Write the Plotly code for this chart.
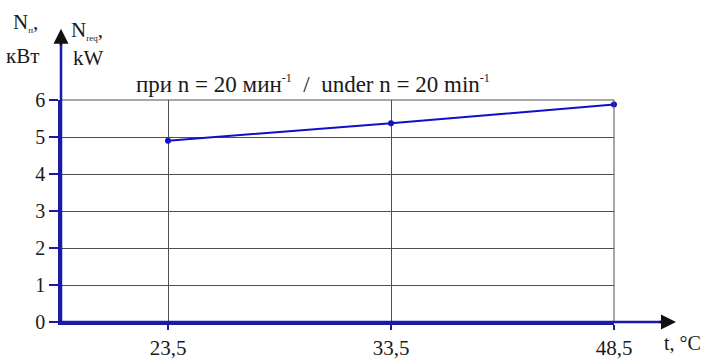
import plotly.graph_objects as go

# data
temps = ["23,5", "33,5", "48,5"]
power = [4.9, 5.37, 5.88]
y_ticks = [0, 1, 2, 3, 4, 5, 6]

W, H = 702, 359
# plot area in page pixels
PX0, PX1, PY0, PY1 = 61, 614, 99.5, 322
L, R, T, B = PX0, W - PX1, PY0, H - PY1
pw, ph = PX1 - PX0, PY1 - PY0

def px(x):
    return (x - PX0) / pw

def py(y):
    return (PY1 - y) / ph

FONT = "Liberation Serif"
BLUE = "#1010c8"
AXB = "#1a1aa8"
GRID = "#505050"
TXT = "#1a1a1a"

fig = go.Figure()
fig.add_trace(go.Scatter(
    x=temps, y=power, mode="lines+markers",
    line=dict(color=BLUE, width=2),
    marker=dict(color=BLUE, size=6, symbol="circle"),
    cliponaxis=False, showlegend=False,
))

fig.update_layout(
    width=W, height=H,
    margin=dict(l=L, r=R, t=T, b=B, autoexpand=False),
    paper_bgcolor="white", plot_bgcolor="white",
    font=dict(family=FONT, size=20, color=TXT),
    xaxis=dict(
        type="category", range=[-0.48, 2.0],
        showgrid=True, gridcolor=GRID, gridwidth=1,
        showline=True, linecolor=AXB, linewidth=2.5,
        ticks="outside", ticklen=5, tickwidth=2, tickcolor=AXB,
        tickfont=dict(family=FONT, size=21, color=TXT),
        zeroline=False, fixedrange=True, automargin=False,
    ),
    yaxis=dict(
        range=[0, 6], tickvals=y_ticks,
        showgrid=True, gridcolor=GRID, gridwidth=1,
        showline=True, linecolor=AXB, linewidth=2.5,
        ticks="outside", ticklen=9, tickwidth=2, tickcolor=AXB,
        tickfont=dict(family=FONT, size=20, color=TXT),
        zeroline=False, fixedrange=True, automargin=False,
    ),
)

shapes = [
    dict(type="line", xref="paper", yref="paper", x0=1, x1=1, y0=0, y1=1,
         line=dict(color=GRID, width=1)),
    dict(type="line", xref="paper", yref="paper", x0=0, x1=1, y0=1, y1=1,
         line=dict(color=GRID, width=1)),
    dict(type="line", xref="paper", yref="paper", x0=0, x1=0, y0=0, y1=py(40),
         line=dict(color=AXB, width=2.5)),
    dict(type="line", xref="paper", yref="paper", x0=0, x1=px(664), y0=0, y1=0,
         line=dict(color=AXB, width=2.5)),
]
fig.update_layout(shapes=shapes)

ann = []
ann.append(dict(xref="paper", yref="paper", x=0, y=py(28), ax=0, ay=18,
                showarrow=True, arrowhead=2, arrowsize=1.2, arrowwidth=2.5,
                arrowcolor="#111111", text=""))
ann.append(dict(xref="paper", yref="paper", x=px(676), y=0, ax=-18, ay=0,
                showarrow=True, arrowhead=2, arrowsize=1.2, arrowwidth=2.5,
                arrowcolor="#111111", text=""))
sub = "<sub><span style='font-size:9px'>%s</span></sub>"
ann.append(dict(xref="paper", yref="paper", x=px(11), y=py(22), xanchor="left", yanchor="middle",
                text="N" + sub % "п" + ",", showarrow=False, font=dict(size=21)))
ann.append(dict(xref="paper", yref="paper", x=px(4), y=py(55), xanchor="left", yanchor="middle",
                text="кВт", showarrow=False, font=dict(size=21)))
ann.append(dict(xref="paper", yref="paper", x=px(69), y=py(30), xanchor="left", yanchor="middle",
                text="N" + sub % "req" + ",", showarrow=False, font=dict(size=21)))
ann.append(dict(xref="paper", yref="paper", x=px(71), y=py(57), xanchor="left", yanchor="middle",
                text="kW", showarrow=False, font=dict(size=21)))
ann.append(dict(xref="paper", yref="paper", x=px(662), y=py(343), xanchor="left", yanchor="middle",
                text="t, °C", showarrow=False, font=dict(size=20)))
sup = "<sup><span style='font-size:12px'>-1</span></sup>"
ann.append(dict(xref="paper", yref="paper", x=px(313), y=py(83), xanchor="center", yanchor="middle",
                text="при n = 20 мин" + sup + "  /  under n = 20 min" + sup, showarrow=False,
                font=dict(size=23)))
fig.update_layout(annotations=ann)

fig.write_html("out.html", config={"displayModeBar": False},
               post_script="document.body.style.margin='0';")
